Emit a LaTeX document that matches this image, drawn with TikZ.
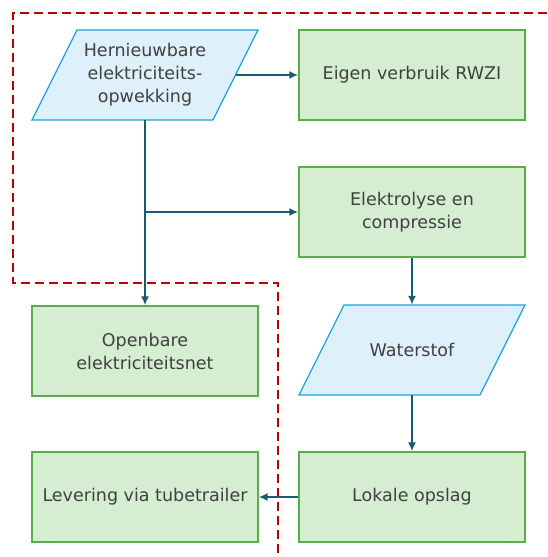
\documentclass[tikz,border=0pt]{standalone}
\usepackage{fontspec}
\setmainfont{DejaVu Sans}
\usetikzlibrary{arrows.meta}

\definecolor{boxfill}{HTML}{D5EED2}
\definecolor{boxline}{HTML}{5AAE4A}
\definecolor{parafill}{HTML}{DEF0F9}
\definecolor{paraline}{HTML}{1CA3DA}
\definecolor{flowline}{HTML}{1A5A72}
\definecolor{textgray}{HTML}{404040}
\definecolor{grensrood}{HTML}{C00000}

\tikzset{
    blok/.style={draw=boxline, fill=boxfill, line width=1.3pt, minimum width=226pt,
        minimum height=90pt, align=center, text=textgray, inner sep=0pt},
    invoer/.style={draw=paraline, fill=parafill, line width=1.3pt},
    invoertekst/.style={minimum width=181pt, minimum height=90pt, align=center,
        text=textgray, inner sep=0pt},
    stroom/.style={draw=flowline, line width=1.8pt, -{Latex[length=9pt, width=8pt]}},
    grens/.style={draw=grensrood, line width=2pt, dash pattern=on 9pt off 5pt}
}

\begin{document}
\begin{tikzpicture}[x=1pt, y=-1pt, font=\fontsize{17.5}{23}\selectfont]
        \useasboundingbox (0,0) rectangle (547,557);

        % systeemgrens
        \draw[grens] (547,13) -- (13,13) -- (13,283) -- (278,283) -- (278,557);

        % parallellogrammen
        \draw[invoer] (32,120) -- ++(181,0) -- ++(45,-90) -- ++(-181,0) -- cycle;
        \draw[invoer] (299,395) -- ++(181,0) -- ++(45,-90) -- ++(-181,0) -- cycle;

        % blokken
        \node[invoertekst] (hern) at (145,75) {Hernieuwbare\\elektriciteits-\\opwekking};
        \node[blok] (eigen) at (412,75) {Eigen verbruik RWZI};
        \node[blok] (elek) at (412,212) {Elektrolyse en\\compressie};
        \node[blok] (open) at (145,351) {Openbare\\elektriciteitsnet};
        \node[invoertekst] (water) at (412,350) {Waterstof};
        \node[blok] (lever) at (145,497) {Levering via tubetrailer};
        \node[blok] (opslag) at (412,497) {Lokale opslag};

        % aftakpunt
        \coordinate (split) at (hern |- elek);

        % stromen
        \draw[stroom] (hern) -- (eigen);
        \draw[stroom] (hern) -- (open);
        \draw[stroom] (split) -- (elek);
        \draw[stroom] (elek) -- (water);
        \draw[stroom] (water) -- (opslag);
        \draw[stroom] (opslag) -- (lever);
    \end{tikzpicture}
\end{document}
